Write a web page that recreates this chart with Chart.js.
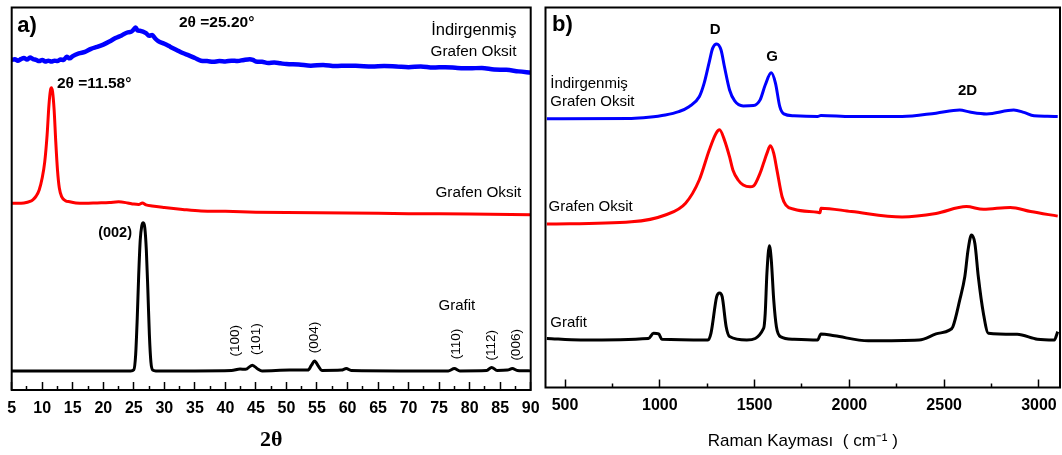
<!DOCTYPE html>
<html lang="tr">
<head>
<meta charset="utf-8">
<title>XRD ve Raman</title>
<script src="https://cdn.jsdelivr.net/npm/chart.js"></script>
<style>
    html, body { margin: 0; padding: 0; background: #fff; }
    body { width: 1062px; height: 455px; position: relative; overflow: hidden; }
    .panel { position: absolute; top: 0; }
    #panel-a { left: 0; }
    #panel-b { left: 538px; }
</style>
</head>
<body>
<div class="panel" id="panel-a"><canvas id="grafico-xrd" width="541" height="455"></canvas></div>
<div class="panel" id="panel-b"><canvas id="grafico-raman" width="524" height="455"></canvas></div>
<script>
// --- datos XRD (2θ, intensidad relativa con desplazamiento) ---
const xrdRgoX = [5, 5.5, 6, 6.5, 7, 7.5, 8, 8.5, 9, 9.5, 10, 10.5, 11, 11.5, 12, 12.5, 13, 13.5, 14, 14.5, 15,
    16, 17, 18, 19, 20, 21, 22, 23, 24, 24.5, 25, 25.3, 25.6, 26, 27, 27.5, 28, 28.5, 29,
    30, 31, 32, 33, 34, 35, 36, 37, 38, 39, 40, 41, 42, 43, 44, 44.5, 45, 46, 47, 48, 49, 50,
    52, 54, 56, 58, 60, 62, 64, 66, 68, 70, 72, 74, 76, 78, 80, 82, 84, 86, 88, 90];
const xrdRgoY = [86.3, 86.5, 86.1, 86.5, 86.8, 86.4, 86.9, 86.5, 86.3, 86.0, 86.3, 85.9, 86.1, 85.9, 86.1, 86.0, 86.4, 86.3, 87.1, 86.7, 87.3,
    88.0, 88.4, 89.2, 89.7, 90.3, 91.1, 92.0, 92.7, 93.5, 93.6, 94.3, 94.8, 94.0, 93.9, 93.3, 92.6, 92.8, 91.9, 91.2,
    90.5, 89.7, 88.9, 88.1, 87.5, 86.8, 86.1, 86.0, 85.8, 86.0, 85.9, 86.1, 86.0, 86.3, 86.5, 86.3, 85.9, 85.8, 85.5, 85.6, 85.4, 85.2,
    85.1, 84.8, 85.0, 84.7, 84.8, 84.7, 84.6, 84.7, 84.6, 84.4, 84.6, 84.3, 84.4, 84.2, 84.1, 84.2, 83.8, 83.7, 83.3, 83.0];

const xrdGoX = [5, 6, 7, 8, 8.5, 9, 9.5, 10, 10.4, 10.8, 11.1, 11.35, 11.5, 11.7, 11.95, 12.2, 12.5, 12.8,
    13.2, 13.8, 14.5, 15.5, 17, 19, 21, 22.5, 24, 25, 25.8, 26.4, 27, 28, 30, 33, 36, 40, 45, 50, 60, 70, 80, 90];
const xrdGoY = [48.8, 48.8, 48.9, 49.3, 49.8, 50.7, 52.3, 55.5, 59.5, 66.7, 74.5, 78.4, 79.0, 77.9, 73.2, 65.4, 57.5, 52.8,
    50.5, 49.5, 49.2, 48.9, 48.8, 48.9, 49.0, 49.2, 48.9, 48.6, 48.5, 48.9, 48.4, 48.1, 47.7, 47.2, 46.8, 46.7, 46.5, 46.4, 46.3, 46.1, 46.0, 45.8];

const xrdGrafitX = [5, 15, 24.5, 25.0, 25.3, 25.55, 25.8, 26.05, 26.3, 26.55, 26.8, 27.05, 27.3, 27.55, 27.8, 28.1, 28.6,
    35, 41, 42.4, 43.3, 44.4, 45.3, 46, 50.5, 53.5, 54.1, 54.6, 55.2, 55.8, 59, 59.8, 60.6, 70,
    76.5, 77.5, 78.4, 82.8, 83.6, 84.5, 86.2, 87, 87.8, 90];
const xrdGrafitY = [5.0, 5.0, 5.0, 5.3, 9.2, 18.3, 30.1, 39.2, 42.9, 43.7, 42.4, 36.6, 26.1, 14.4, 7.3, 5.2, 5.0,
    5.0, 5.1, 5.5, 5.4, 6.5, 5.5, 5.0, 5.2, 5.2, 6.5, 7.6, 6.3, 5.1, 5.2, 5.6, 5.1, 5.0,
    5.0, 5.6, 5.0, 5.1, 5.9, 5.1, 5.2, 5.6, 5.1, 5.0];

// --- datos Raman (cm-1, intensidad relativa con desplazamiento) ---
const ramanRgoX = [404, 850, 940, 1029, 1100, 1154, 1208, 1234, 1261, 1279, 1300, 1323, 1341, 1368, 1395, 1440, 1494,
    1529, 1556, 1588, 1610, 1633, 1654, 1708, 1832, 1850, 2011, 2278, 2457, 2582, 2635, 2724, 2867, 2920, 2974, 3045, 3099];
const ramanRgoY = [70.7, 70.8, 71.1, 71.7, 72.6, 73.9, 76.5, 80.1, 85.7, 89.3, 90.4, 88.8, 84.4, 78.3, 75.4, 74.1, 74.2,
    75.7, 79.6, 82.8, 80.1, 73.9, 72.0, 71.5, 71.3, 71.6, 71.3, 71.3, 72.2, 73.0, 72.5, 72.0, 73.0, 72.4, 71.5, 71.4, 71.3];

const ramanGoX = [404, 850, 1029, 1136, 1208, 1261, 1297, 1315, 1341, 1368, 1386, 1413, 1440, 1476, 1494, 1529, 1547,
    1565, 1583, 1601, 1618, 1645, 1665, 1708, 1832, 1845, 1850, 2011, 2278, 2457, 2617, 2707, 2849, 2956, 3099];
const ramanGoY = [43.0, 43.6, 45.4, 48.5, 54.6, 62.5, 66.9, 67.8, 65.1, 60.7, 57.2, 54.6, 53.3, 52.8, 53.0, 56.4, 59.0,
    61.6, 63.6, 61.6, 57.2, 50.2, 48.0, 46.9, 46.1, 46.0, 47.2, 46.3, 44.9, 45.8, 47.6, 46.9, 47.4, 46.3, 45.1];

const ramanGrafitX = [404, 583, 940, 967, 994, 1011, 1254, 1270, 1300, 1315, 1329, 1350, 1368, 1459, 1548, 1556, 1565,
    1578, 1588, 1601, 1615, 1636, 1708, 1832, 1850, 1922, 2100, 2368, 2457, 2528, 2546, 2582, 2609, 2626, 2644, 2662,
    2680, 2707, 2733, 2885, 2992, 3081, 3099];
const ramanGrafitY = [12.9, 12.5, 12.9, 14.3, 14.1, 12.7, 12.5, 14.3, 23.9, 24.9, 23.9, 16.0, 13.4, 12.5, 15.6, 19.5, 30.1,
    37.3, 33.6, 23.0, 16.0, 13.4, 12.7, 12.5, 14.1, 13.6, 12.3, 12.5, 14.1, 15.1, 16.0, 23.0, 29.2, 36.2, 40.1, 37.9,
    29.2, 19.5, 14.3, 14.0, 12.7, 12.5, 14.7];

// --- ejes y marcas ---
const xrdEje = [5, 90];
const xrdTicks = [5, 10, 15, 20, 25, 30, 35, 40, 45, 50, 55, 60, 65, 70, 75, 80, 85, 90];
const ramanEje = [397, 3111];
const ramanTicks = [500, 1000, 1500, 2000, 2500, 3000];

const FUENTE = "'Liberation Sans', Arial, sans-serif";

function puntos(xs, ys) {
    return xs.map((x, i) => ({ x: x, y: ys[i] }));
}

// marcas menores: punto medio entre cada par de marcas mayores
function medios(ticks) {
    const res = [];
    for (let i = 0; i < ticks.length - 1; i++) res.push((ticks[i] + ticks[i + 1]) / 2);
    return res;
}

function serie(xs, ys, color, ancho) {
    return {
        data: puntos(xs, ys),
        borderColor: color,
        borderWidth: ancho,
        pointRadius: 0,
        fill: false,
        cubicInterpolationMode: 'monotone'
    };
}

// marco del area y textos anotados (en coordenadas de datos)
const marcoYTextos = {
    id: 'marcoYTextos',
    afterDatasetsDraw(chart, args, opts) {
        const { ctx, chartArea: a, scales } = chart;
        ctx.save();
        ctx.strokeStyle = '#000';
        ctx.lineWidth = 2;
        ctx.strokeRect(a.left, a.top, a.right - a.left, a.bottom - a.top);
        (opts.textos || []).forEach(t => {
            ctx.save();
            ctx.translate(scales.x.getPixelForValue(t.x), scales.y.getPixelForValue(t.y));
            if (t.rot) ctx.rotate(t.rot);
            ctx.font = t.font;
            ctx.fillStyle = '#000';
            ctx.textAlign = t.align || 'left';
            ctx.textBaseline = 'middle';
            ctx.fillText(t.text, 0, 0);
            ctx.restore();
        });
        ctx.restore();
    }
};

function ejesX(rango, mayores, alto, padEtiqueta, titulo, fuenteTitulo, padTitulo) {
    const menores = medios(mayores);
    return {
        x: {
            type: 'linear', position: 'bottom', min: rango[0], max: rango[1], weight: 0,
            afterBuildTicks: s => { s.ticks = mayores.map(v => ({ value: v })); },
            afterFit: s => { s.height = alto; s.paddingLeft = 0; s.paddingRight = 0; },
            ticks: { autoSkip: false, maxRotation: 0, color: '#000', padding: padEtiqueta,
                callback: v => String(v),
                font: { family: FUENTE, size: 16, weight: 'bold' } },
            grid: { drawOnChartArea: false, tickLength: -8, tickWidth: 1.5, tickColor: '#000' },
            border: { display: false },
            title: { display: true, text: titulo, color: '#000', font: fuenteTitulo, padding: { top: 0, bottom: padTitulo } }
        },
        x2: {
            type: 'linear', position: 'bottom', min: rango[0], max: rango[1], weight: -1,
            afterBuildTicks: s => { s.ticks = menores.map(v => ({ value: v })); },
            afterFit: s => { s.height = 0; s.paddingLeft = 0; s.paddingRight = 0; },
            ticks: { display: false },
            grid: { drawOnChartArea: false, tickLength: -4, tickWidth: 1.5, tickColor: '#000' },
            border: { display: false }
        },
        y: { display: false, min: 0, max: 100 }
    };
}

function crearXrd() {
    const ctx = document.getElementById('grafico-xrd');
    const fb = s => `bold ${s}px ${FUENTE}`;
    const fn = s => `${s}px ${FUENTE}`;
    const rot = -Math.PI / 2;
    new Chart(ctx, {
        type: 'line',
        data: {
            datasets: [
                serie(xrdRgoX, xrdRgoY, '#0000ff', 4.5),
                serie(xrdGoX, xrdGoY, '#ff0000', 3),
                serie(xrdGrafitX, xrdGrafitY, '#000000', 3)
            ]
        },
        options: {
            responsive: false,
            animation: false,
            devicePixelRatio: 1,
            layout: { padding: { left: 11.7, right: 10.3, top: 7.5, bottom: 0 } },
            plugins: {
                legend: { display: false },
                tooltip: { enabled: false },
                marcoYTextos: {
                    textos: [
                        { text: 'a)', x: 5.9, y: 95.3, font: fb(22) },
                        { text: '2θ =25.20°', x: 32.4, y: 95.9, font: fb(15.5) },
                        { text: 'İndirgenmiş', x: 73.7, y: 93.9, font: fn(16.5) },
                        { text: 'Grafen Oksit', x: 73.6, y: 88.4, font: fn(15.3) },
                        { text: '2θ =11.58°', x: 12.4, y: 80.0, font: fb(15.5) },
                        { text: 'Grafen Oksit', x: 74.4, y: 51.5, font: fn(15.3) },
                        { text: '(002)', x: 24.7, y: 41.0, font: fb(14.5), align: 'right' },
                        { text: 'Grafit', x: 74.9, y: 22.0, font: fn(15) },
                        { text: '(100)', x: 41.6, y: 12.9, font: fn(13.5), align: 'center', rot: rot },
                        { text: '(101)', x: 45.0, y: 13.3, font: fn(13.5), align: 'center', rot: rot },
                        { text: '(004)', x: 54.6, y: 13.7, font: fn(13.5), align: 'center', rot: rot },
                        { text: '(110)', x: 77.8, y: 12.0, font: fn(13.5), align: 'center', rot: rot },
                        { text: '(112)', x: 83.6, y: 11.7, font: fn(13.5), align: 'center', rot: rot },
                        { text: '(006)', x: 87.7, y: 11.8, font: fn(13.5), align: 'center', rot: rot }
                    ]
                }
            },
            scales: ejesX(xrdEje, xrdTicks, 65, 17, '2θ',
                { family: "'Liberation Serif', 'Times New Roman', serif", size: 22, weight: 'bold' }, 1.8)
        },
        plugins: [marcoYTextos]
    });
}

function crearRaman() {
    const ctx = document.getElementById('grafico-raman');
    const fb = s => `bold ${s}px ${FUENTE}`;
    const fn = s => `${s}px ${FUENTE}`;
    new Chart(ctx, {
        type: 'line',
        data: {
            datasets: [
                serie(ramanRgoX, ramanRgoY, '#0000ff', 3),
                serie(ramanGoX, ramanGoY, '#ff0000', 3),
                serie(ramanGrafitX, ramanGrafitY, '#000000', 3)
            ]
        },
        options: {
            responsive: false,
            animation: false,
            devicePixelRatio: 1,
            layout: { padding: { left: 7.5, right: 2, top: 7.5, bottom: 0 } },
            plugins: {
                legend: { display: false },
                tooltip: { enabled: false },
                marcoYTextos: {
                    textos: [
                        { text: 'b)', x: 431, y: 95.4, font: fb(22) },
                        { text: 'D', x: 1292, y: 94.1, font: fb(15), align: 'center' },
                        { text: 'G', x: 1592, y: 87.1, font: fb(15), align: 'center' },
                        { text: '2D', x: 2623, y: 78.1, font: fb(15), align: 'center' },
                        { text: 'İndirgenmiş', x: 422, y: 80.0, font: fn(15) },
                        { text: 'Grafen Oksit', x: 422, y: 75.1, font: fn(15) },
                        { text: 'Grafen Oksit', x: 413, y: 47.6, font: fn(15) },
                        { text: 'Grafit', x: 422, y: 16.9, font: fn(15) }
                    ]
                }
            },
            scales: ejesX(ramanEje, ramanTicks, 67.5, 16.5, 'Raman Kayması  ( cm⁻¹ )',
                { family: FUENTE, size: 17, weight: 'normal' }, 3.1)
        },
        plugins: [marcoYTextos]
    });
}

crearXrd();
crearRaman();
</script>
</body>
</html>
